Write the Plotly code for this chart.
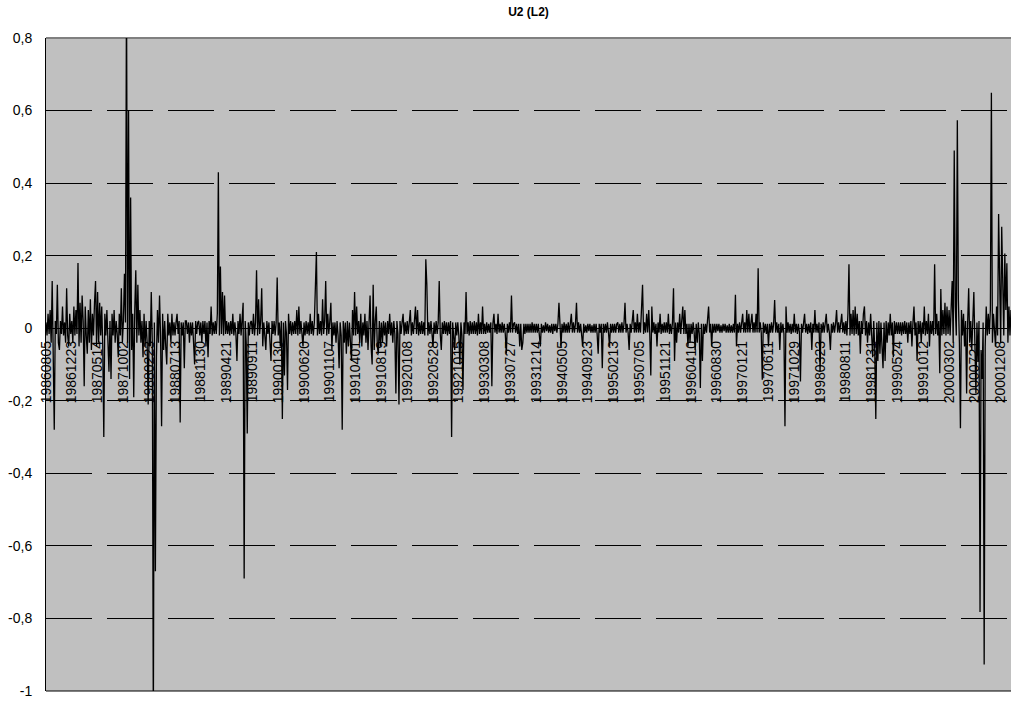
import plotly.graph_objects as go

# Residual series U2 (L2), in thousandths (1/1000) of the unit
resid_p1 = [16,-20,40,-16,50,-40,130,-20,-280,20,-16,120,-40,-60,20,-16,60,-20,16,-40,110,-20,-50,40,-16,
            20,-40,60,-20,50,-16,180,-50,70,-40,90,20,-160,60,-20,-70,50,-40,80,-60,40,-20,70,130,-50,
            100,-40,70,-20,60,-50,-300,40,-20,50,-40,-120,20,-140,40,-20,50,-40,20,-16,-80,40,-20,110,-40,
            20,150,16,950,-40,600,-140,360,-60,40,-190,50,160,-40,120,-20,50,-40,20,-80,40,-50,20,-40,-210]
resid_p2 = [20,-50,100,-40,-1100,16,-670,-80,50,-40,90,-20,-270,40,-60,20,-50,-100,40,-20,16,-40,40,-20,16,
            -20,16,40,-16,20,-260,16,-20,16,-110,20,20,-16,16,-40,16,-20,16,-50,-100,20,-16,16,20,-20,
            16,-40,20,-16,20,-50,16,-80,20,-16,60,-20,16,-16,20,-16,40,430,-20,170,-16,100,-20,90,-16,
            20,-16,16,-20,20,-16,40,-20,16,-16,-90,20,-16,40,-20,16,70,-690,20,-40,-290,16,-20,16,20]
resid_p3 = [-16,40,-20,16,160,-20,80,-16,20,110,-50,16,-20,-60,20,-16,16,-40,-90,20,-16,20,-20,16,140,
            -20,16,-50,20,-250,16,-130,20,-16,-170,40,-16,20,-20,16,-16,20,-16,50,-20,60,-16,20,-20,-50,
            16,-20,20,-16,16,-20,40,-16,20,-20,16,140,210,-20,40,-16,20,-20,80,-16,20,130,-20,40,-16,
            20,70,-60,16,-20,16,-40,20,-20,-110,16,-20,-280,20,-40,16,-70,20,-50,16,-40,-90,50,-20,100]
resid_p4 = [-20,60,-16,20,-40,40,-50,16,-20,40,-40,20,-60,16,90,-50,-100,120,-60,20,60,-50,-70,20,-50,
            16,-40,20,-20,16,-50,20,-16,40,-20,16,-40,20,-16,-180,20,-16,-210,20,-16,16,40,-20,16,-16,
            20,-16,16,50,-20,16,-16,20,60,-16,50,-20,16,-16,20,-16,16,-20,190,120,-20,16,-16,20,-16,
            -50,16,-16,20,-16,16,130,-16,-60,16,-16,20,-16,16,-20,16,-16,20,-300,16,-20,-60,16,-20,16]
resid_p5 = [-20,-100,16,-20,-170,16,-16,100,-16,16,-20,20,-16,16,-16,20,-16,16,-20,40,-16,16,-16,60,-16,
            12,-16,16,-12,12,-12,16,-160,12,40,-12,12,-16,40,-12,12,-12,16,-12,12,-16,-70,12,-12,16,
            -12,90,-12,12,16,-12,12,-16,12,-50,12,-60,-40,12,-16,12,-12,12,-12,12,-12,16,-12,12,-12,
            12,-12,12,-12,-50,12,-12,8,-12,16,-8,12,-12,8,-12,12,-16,12,-8,12,-12,12,70,12,-50]
resid_p6 = [12,-12,16,-12,12,-12,16,-12,12,40,-12,16,-12,12,70,-12,16,-12,12,-12,-50,12,-12,8,-12,
            12,-8,12,-12,8,-12,12,-12,12,-16,-70,12,-12,12,-110,12,-12,12,-12,16,-12,-50,12,-12,12,
            -12,12,-12,12,16,-12,12,-12,16,-12,12,70,-12,12,-12,-60,12,-12,12,50,-12,16,-12,40,-12,
            16,-12,40,120,-16,16,-12,40,-12,50,-16,-130,60,-12,16,-16,12,-50,16,-12,40,-16,12,-12,16]
resid_p7 = [-12,16,-12,40,-16,12,-16,16,110,-90,16,-40,16,-12,40,-16,12,60,-16,50,-16,12,-50,12,-40,
            12,-16,16,-12,-60,12,-40,16,-16,-165,12,-90,12,-16,12,-12,16,60,-12,12,-50,12,-12,12,-12,
            12,-8,12,-12,8,-12,12,-8,12,-12,8,-12,12,-12,8,-12,12,-12,92,-50,12,-12,16,-12,12,
            40,-12,16,-12,50,-12,40,-12,16,40,-12,16,-12,40,-12,165,-12,16,-12,-142,16,-12,12,-16,12]
resid_p8 = [-50,12,-12,16,-12,12,78,-12,16,-12,12,-60,16,-12,12,-16,-270,60,-12,16,-12,12,-16,12,-12,
            40,-12,12,-16,12,-12,-147,12,-12,12,40,-12,12,-16,12,-12,16,-60,12,-12,50,-12,12,-12,16,
            -120,12,-12,16,-12,12,40,-12,12,-12,-60,12,-12,16,-12,12,50,-12,16,-12,12,40,-12,16,-16,
            20,-20,40,176,-20,40,-16,50,-20,60,-16,40,-20,20,-70,20,-16,40,60,-20,20,-40,16,-20,40]
resid_p9 = [-20,-80,20,-60,-250,16,-90,20,-70,16,-50,-110,16,-90,20,-40,16,-20,40,-20,16,-80,20,-16,16,
            -16,16,-16,16,-20,16,-16,20,-16,16,-40,16,-16,20,-50,16,60,-20,16,-90,20,-16,20,-40,16,
            -16,60,-20,20,-16,40,-50,20,-16,20,-20,176,-16,40,-20,20,-124,108,-20,50,-16,70,-20,60,-16,
            50,-20,80,130,-40,490,60,-20,573,80,-40,-276,50,-20,40,-50,20,-180,16,110,-40,20,-60,16,100]
resid_p10 = [-40,-180,16,-90,20,-782,-60,-140,16,-927,-50,60,-20,40,-16,50,649,-40,40,-20,-50,60,-20,315,50,
             -40,280,70,-20,206,50,179,-40,60,-20,50]

# Category labels (every 25th observation in this reading)
date_labels = ["19860805","19861223","19870514","19871002","19880223","19880713","19881130",
               "19890421","19890911","19900130","19900620","19901107","19910401","19910819",
               "19920108","19920528","19921015","19930308","19930727","19931214","19940505",
               "19940923","19950213","19950705","19951121","19960410","19960830","19970121",
               "19970611","19971029","19980323","19980811","19981231","19990524","19991012",
               "20000302","20000721","20001208"]
label_step = 25

y_tick_vals = [0.8, 0.6, 0.4, 0.2, 0.0, -0.2, -0.4, -0.6, -0.8, -1.0]
y_tick_text = ["0,8", "0,6", "0,4", "0,2", "0", "-0,2", "-0,4", "-0,6", "-0,8", "-1"]

resid_milli = (resid_p1 + resid_p2 + resid_p3 + resid_p4 + resid_p5 +
               resid_p6 + resid_p7 + resid_p8 + resid_p9 + resid_p10)
values = [v / 1000.0 for v in resid_milli]
n = len(values)
xs = list(range(n))

y_min, y_max = -1.0, 0.8
font_family = "Liberation Sans, Arial, sans-serif"

fig = go.Figure()
fig.add_trace(go.Scatter(x=xs, y=values, mode="lines",
                         line=dict(color="black", width=1.3), showlegend=False,
                         hoverinfo="skip"))

fig.update_layout(
    width=1011, height=702,
    margin=dict(l=46, r=0, t=38, b=11),
    paper_bgcolor="white",
    plot_bgcolor="#C0C0C0",
    font=dict(family=font_family, color="black"),
    title=dict(text="<b>U2 (L2)</b>", x=0.5, xref="paper", xanchor="center",
               y=1 - 12 / 702, yanchor="middle", yref="container",
               font=dict(size=12, family=font_family, color="black")),
    xaxis=dict(
        range=[0, n - 1],
        anchor="free",
        position=(0 - y_min) / (y_max - y_min),
        tickmode="array",
        tickvals=[i * label_step for i in range(len(date_labels))],
        ticktext=date_labels,
        tickangle=-90,
        tickfont=dict(size=14, family=font_family, color="black"),
        showgrid=False, zeroline=False, showline=False, ticks="",
        ticklabelstandoff=9,
    ),
    yaxis=dict(
        range=[y_min, y_max],
        tickmode="array",
        tickvals=y_tick_vals,
        ticktext=y_tick_text,
        tickfont=dict(size=14, family=font_family, color="black"),
        showgrid=True, gridcolor="black", gridwidth=1, griddash="46px,15px",
        zeroline=False, showline=True, linecolor="black", linewidth=1,
        ticks="", ticklabelstandoff=10,
    ),
    shapes=[
        dict(type="line", xref="paper", yref="paper", x0=0, x1=1, y0=1, y1=1,
             line=dict(color="#808080", width=2), layer="below"),
        dict(type="line", xref="paper", yref="paper", x0=0, x1=1, y0=0, y1=0,
             line=dict(color="black", width=1), layer="below"),
    ],
)

fig.write_html("out.html", config={"displayModeBar": False})
